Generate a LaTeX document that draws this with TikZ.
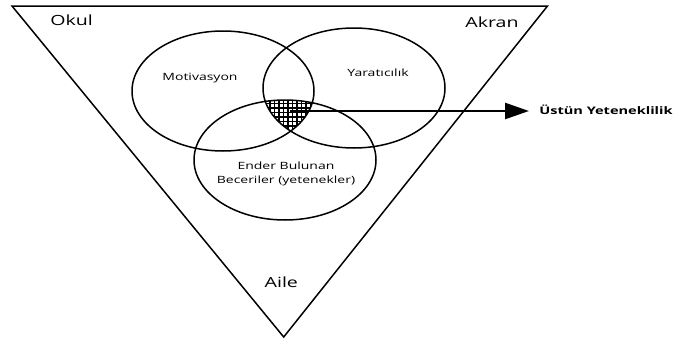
\documentclass[tikz,border=0pt]{standalone}
\usepackage{fontspec}
\setmainfont{Open Sans}
\usetikzlibrary{arrows.meta}
\begin{document}
\begin{tikzpicture}[x=1pt,y=-1pt]
    \tikzset{halka/.style={line width=1.5pt},
             yazi/.style={xscale=1.4, inner sep=0pt, anchor=base, font=\fontsize{10}{13.3}\selectfont},
             buyuk/.style={yazi, font=\fontsize{14}{16}\selectfont}}
    \useasboundingbox (0,0) rectangle (677,340);

    % ters ucgen
    \coordinate (sol) at (12,6);
    \coordinate (sag) at (547.5,6);
    \coordinate (alt) at (283.7,337);
    \draw[halka, line join=miter] (sol) -- (sag) -- (alt) -- cycle;

    % daire merkezleri
    \coordinate (M) at (223,91);
    \coordinate (Y) at (354,88);
    \coordinate (E) at (285,160);
    \coordinate (kesisim) at (290,111);

    % ortak bolge
    \begin{scope}
        \clip (M) ellipse [x radius=91pt, y radius=60pt];
        \clip (Y) ellipse [x radius=91pt, y radius=60pt];
        \clip (E) ellipse [x radius=91pt, y radius=60pt];
        \draw[line width=1.1pt] (250,90) grid[step=4.5pt] (330,140);
    \end{scope}

    \draw[halka] (M) ellipse [x radius=91pt, y radius=60pt];
    \draw[halka] (Y) ellipse [x radius=91pt, y radius=60pt];
    \draw[halka] (E) ellipse [x radius=91pt, y radius=60pt];

    \node[buyuk, anchor=base west] (okul) at (50,25.3) {Okul};
    \node[buyuk] (akran) at (492,27.3) {Akran};
    \node[buyuk] (aile) at (281.3,287.3) {Aile};
    \node[yazi] (motivasyon) at (200,80) {Motivasyon};
    \node[yazi] (yaraticilik) at (378,76.5) {Yaratıcılık};
    \node[yazi, anchor=center, align=center] (ender) at (286,174) {Ender Bulunan\\Beceriler (yetenekler)};
    \node[yazi, anchor=base west, font=\fontsize{10.4}{12}\selectfont\bfseries] (ustun) at (539,114.7) {Üstün Yeteneklilik};

    \draw[line width=2.5pt, -{Triangle[length=24pt,width=16pt]}, shorten >=10pt] (kesisim) -- (kesisim -| ustun.west);

\end{tikzpicture}
\end{document}
